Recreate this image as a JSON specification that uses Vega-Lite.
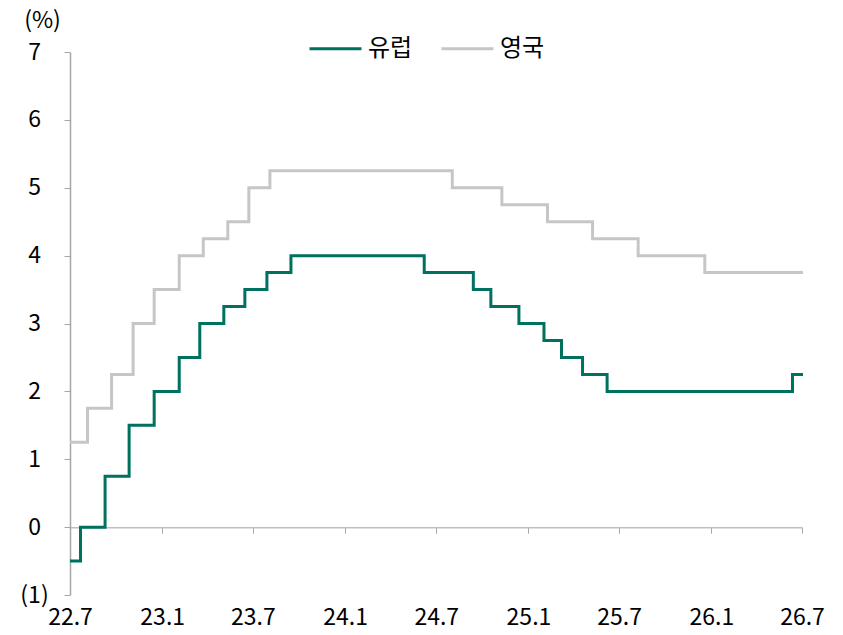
{
  "$schema": "https://vega.github.io/schema/vega-lite/v6.json",
  "autosize": "none",
  "width": 732,
  "height": 543,
  "padding": {"left": 70, "top": 52, "right": 41, "bottom": 40},
  "background": "white",
  "config": {
    "view": {"stroke": null},
    "font": "Noto Sans CJK KR",
    "axis": {"grid": false}
  },
  "data": {
    "values": [
      {"date": "2022-07-01", "rate": -0.5, "series": "유럽"},
      {"date": "2022-07-22", "rate": 0, "series": "유럽"},
      {"date": "2022-09-09", "rate": 0.75, "series": "유럽"},
      {"date": "2022-10-27", "rate": 1.5, "series": "유럽"},
      {"date": "2022-12-16", "rate": 2.0, "series": "유럽"},
      {"date": "2023-02-04", "rate": 2.5, "series": "유럽"},
      {"date": "2023-03-17", "rate": 3.0, "series": "유럽"},
      {"date": "2023-05-04", "rate": 3.25, "series": "유럽"},
      {"date": "2023-06-15", "rate": 3.5, "series": "유럽"},
      {"date": "2023-07-29", "rate": 3.75, "series": "유럽"},
      {"date": "2023-09-15", "rate": 4.0, "series": "유럽"},
      {"date": "2024-06-07", "rate": 3.75, "series": "유럽"},
      {"date": "2024-09-13", "rate": 3.5, "series": "유럽"},
      {"date": "2024-10-18", "rate": 3.25, "series": "유럽"},
      {"date": "2024-12-13", "rate": 3.0, "series": "유럽"},
      {"date": "2025-02-01", "rate": 2.75, "series": "유럽"},
      {"date": "2025-03-08", "rate": 2.5, "series": "유럽"},
      {"date": "2025-04-19", "rate": 2.25, "series": "유럽"},
      {"date": "2025-06-07", "rate": 2.0, "series": "유럽"},
      {"date": "2026-06-12", "rate": 2.25, "series": "유럽"},
      {"date": "2026-07-03", "rate": 2.25, "series": "유럽"},
      {"date": "2022-07-01", "rate": 1.25, "series": "영국"},
      {"date": "2022-08-05", "rate": 1.75, "series": "영국"},
      {"date": "2022-09-22", "rate": 2.25, "series": "영국"},
      {"date": "2022-11-04", "rate": 3.0, "series": "영국"},
      {"date": "2022-12-16", "rate": 3.5, "series": "영국"},
      {"date": "2023-02-04", "rate": 4.0, "series": "영국"},
      {"date": "2023-03-24", "rate": 4.25, "series": "영국"},
      {"date": "2023-05-12", "rate": 4.5, "series": "영국"},
      {"date": "2023-06-23", "rate": 5.0, "series": "영국"},
      {"date": "2023-08-04", "rate": 5.25, "series": "영국"},
      {"date": "2024-08-02", "rate": 5.0, "series": "영국"},
      {"date": "2024-11-09", "rate": 4.75, "series": "영국"},
      {"date": "2025-02-08", "rate": 4.5, "series": "영국"},
      {"date": "2025-05-09", "rate": 4.25, "series": "영국"},
      {"date": "2025-08-08", "rate": 4.0, "series": "영국"},
      {"date": "2025-12-19", "rate": 3.75, "series": "영국"},
      {"date": "2026-07-03", "rate": 3.75, "series": "영국"}
    ]
  },
  "mark": {"type": "line", "interpolate": "step-after", "strokeWidth": 3, "clip": false},
  "encoding": {
    "x": {
      "field": "date",
      "type": "temporal",
      "scale": {"domain": ["2022-07-01", "2026-07-01"]},
      "axis": {
        "title": null,
        "values": ["2022-07-01", "2023-01-01", "2023-07-01", "2024-01-01", "2024-07-01", "2025-01-01", "2025-07-01", "2026-01-01", "2026-07-01"],
        "labelExpr": "timeFormat(datum.value, '%y.%-m')",
        "offset": -67.875,
        "domainColor": "#bfbfbf",
        "domainWidth": 1.5,
        "tickColor": "#a6a6a6",
        "tickSize": 6,
        "tickWidth": 1,
        "labelPadding": 73,
        "labelFontSize": 23,
        "labelColor": "#000000",
        "labelBaseline": "top",
        "labelFlush": false
      }
    },
    "y": {
      "field": "rate",
      "type": "quantitative",
      "scale": {"domain": [-1, 7], "nice": false, "zero": false},
      "axis": {
        "title": "(%)",
        "titleAngle": 0,
        "titleX": -28,
        "titleY": -32,
        "titleAlign": "center",
        "titleBaseline": "middle",
        "titleFontSize": 23,
        "titleFontWeight": "normal",
        "titleColor": "#000000",
        "values": [-1, 0, 1, 2, 3, 4, 5, 6, 7],
        "labelExpr": "datum.value < 0 ? '(' + abs(datum.value) + ')' : datum.value",
        "labelAlign": "center",
        "labelPadding": 30,
        "labelFontSize": 23,
        "labelColor": "#000000",
        "domainColor": "#a6a6a6",
        "domainWidth": 1.5,
        "tickColor": "#a6a6a6",
        "tickSize": 6,
        "labelFlush": false
      }
    },
    "color": {
      "field": "series",
      "type": "nominal",
      "scale": {"domain": ["유럽", "영국"], "range": ["#00705f", "#c6c6c6"]},
      "legend": {
        "title": null,
        "orient": "none",
        "direction": "horizontal",
        "legendX": 238,
        "legendY": -31,
        "symbolType": "stroke",
        "symbolSize": 2700,
        "symbolStrokeWidth": 3,
        "labelFontSize": 24,
        "labelColor": "#000000",
        "labelOffset": 5,
        "columnPadding": 22
      }
    }
  }
}
